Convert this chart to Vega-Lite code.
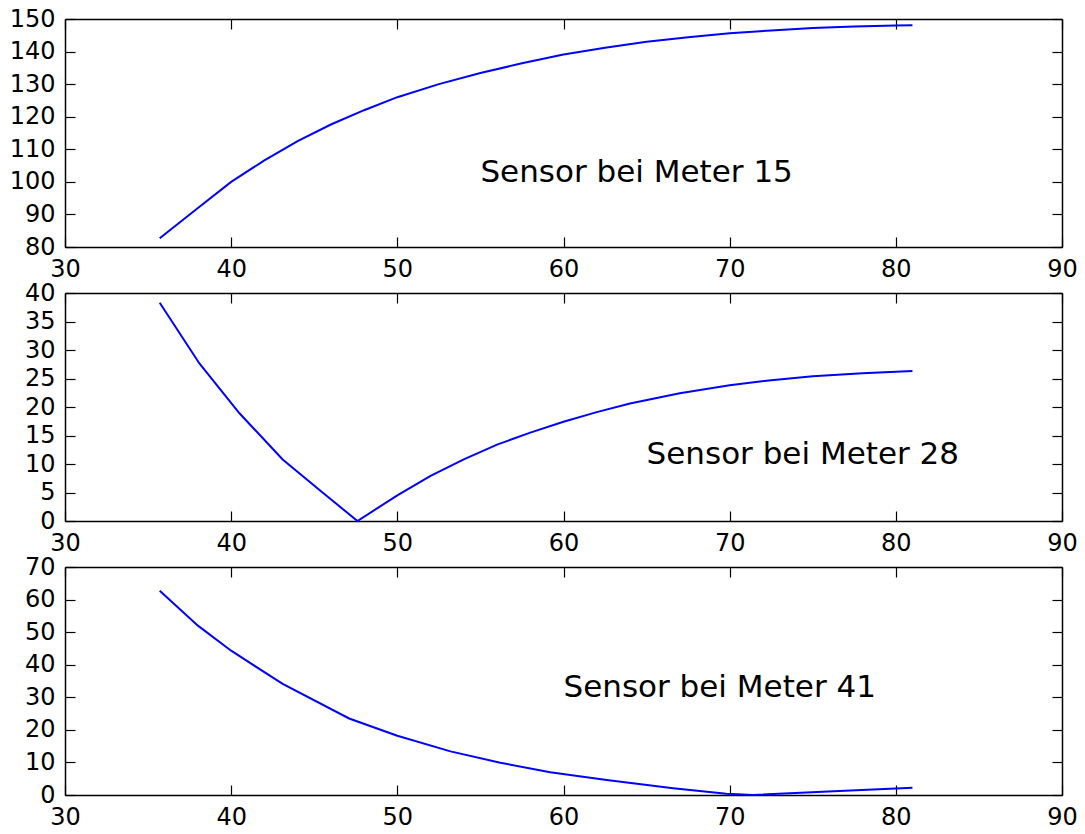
{
  "$schema": "https://vega.github.io/schema/vega-lite/v6.json",
  "padding": {"left": 9, "top": 7, "right": 5, "bottom": 5},
  "background": "white",
  "config": {
    "font": "DejaVu Sans",
    "view": {"stroke": null},
    "axis": {
      "grid": false,
      "title": null,
      "domainColor": "black",
      "domainWidth": 1.5,
      "tickColor": "black",
      "tickWidth": 1.2,
      "tickSize": -10,
      "labelFont": "DejaVu Sans",
      "labelFontSize": 24,
      "labelColor": "black",
      "labelOverlap": false,
      "labelFlush": false,
      "labelPadding": 20
    }
  },
  "spacing": 46,
  "bounds": "flush",
  "vconcat": [
    {
      "width": 997,
      "height": 228,
      "layer": [
        {
          "data": {"values": [
            {"x": 35.7, "v": 82.7}, {"x": 38.0, "v": 92.0}, {"x": 40.0, "v": 100.0}, {"x": 42.0, "v": 106.6},
            {"x": 44.0, "v": 112.5}, {"x": 46.0, "v": 117.6}, {"x": 48.0, "v": 122.0}, {"x": 50.0, "v": 126.0},
            {"x": 52.5, "v": 130.0}, {"x": 55.0, "v": 133.4}, {"x": 57.5, "v": 136.4}, {"x": 60.0, "v": 139.1},
            {"x": 62.5, "v": 141.2}, {"x": 65.0, "v": 143.0}, {"x": 67.5, "v": 144.4}, {"x": 70.0, "v": 145.6},
            {"x": 72.5, "v": 146.5}, {"x": 75.0, "v": 147.2}, {"x": 77.5, "v": 147.7}, {"x": 80.0, "v": 148.0},
            {"x": 81.0, "v": 148.1}
          ]},
          "mark": {"type": "line", "color": "#0000ff", "strokeWidth": 2},
          "encoding": {
            "x": {"field": "x", "type": "quantitative", "scale": {"domain": [30, 90], "nice": false, "zero": false},
                  "axis": {"orient": "bottom", "values": [30, 40, 50, 60, 70, 80, 90]}},
            "y": {"field": "v", "type": "quantitative", "scale": {"domain": [80, 150], "nice": false, "zero": false},
                  "axis": {"orient": "left", "values": [80, 90, 100, 110, 120, 130, 140, 150]}}
          }
        },
        {
          "data": {"values": [{"x": 55, "v": 100, "label": "Sensor bei Meter 15"}]},
          "mark": {"type": "text", "align": "left", "baseline": "alphabetic", "fontSize": 31, "color": "black"},
          "encoding": {
            "x": {"field": "x", "type": "quantitative", "scale": {"domain": [30, 90], "nice": false, "zero": false},
                  "axis": {"orient": "top", "labels": false, "values": [30, 40, 50, 60, 70, 80, 90]}},
            "y": {"field": "v", "type": "quantitative", "scale": {"domain": [80, 150], "nice": false, "zero": false},
                  "axis": {"orient": "right", "labels": false, "values": [80, 90, 100, 110, 120, 130, 140, 150]}},
            "text": {"field": "label"}
          }
        }
      ],
      "resolve": {"axis": {"x": "independent", "y": "independent"}}
    },
    {
      "width": 997,
      "height": 228,
      "layer": [
        {
          "data": {"values": [
            {"x": 35.7, "v": 38.3}, {"x": 38.1, "v": 27.6}, {"x": 40.5, "v": 18.9}, {"x": 43.1, "v": 10.8},
            {"x": 45.5, "v": 5.0}, {"x": 47.6, "v": 0.0}, {"x": 50.0, "v": 4.5}, {"x": 52.0, "v": 7.9},
            {"x": 54.0, "v": 10.8}, {"x": 56.0, "v": 13.4}, {"x": 58.0, "v": 15.5}, {"x": 60.0, "v": 17.4},
            {"x": 62.0, "v": 19.1}, {"x": 64.0, "v": 20.6}, {"x": 67.0, "v": 22.4}, {"x": 70.0, "v": 23.8},
            {"x": 72.5, "v": 24.7}, {"x": 75.0, "v": 25.4}, {"x": 78.0, "v": 25.9}, {"x": 81.0, "v": 26.3}
          ]},
          "mark": {"type": "line", "color": "#0000ff", "strokeWidth": 2},
          "encoding": {
            "x": {"field": "x", "type": "quantitative", "scale": {"domain": [30, 90], "nice": false, "zero": false},
                  "axis": {"orient": "bottom", "values": [30, 40, 50, 60, 70, 80, 90]}},
            "y": {"field": "v", "type": "quantitative", "scale": {"domain": [0, 40], "nice": false, "zero": false},
                  "axis": {"orient": "left", "values": [0, 5, 10, 15, 20, 25, 30, 35, 40]}}
          }
        },
        {
          "data": {"values": [{"x": 65, "v": 10, "label": "Sensor bei Meter 28"}]},
          "mark": {"type": "text", "align": "left", "baseline": "alphabetic", "fontSize": 31, "color": "black"},
          "encoding": {
            "x": {"field": "x", "type": "quantitative", "scale": {"domain": [30, 90], "nice": false, "zero": false},
                  "axis": {"orient": "top", "labels": false, "values": [30, 40, 50, 60, 70, 80, 90]}},
            "y": {"field": "v", "type": "quantitative", "scale": {"domain": [0, 40], "nice": false, "zero": false},
                  "axis": {"orient": "right", "labels": false, "values": [0, 5, 10, 15, 20, 25, 30, 35, 40]}},
            "text": {"field": "label"}
          }
        }
      ],
      "resolve": {"axis": {"x": "independent", "y": "independent"}}
    },
    {
      "width": 997,
      "height": 228,
      "layer": [
        {
          "data": {"values": [
            {"x": 35.7, "v": 62.7}, {"x": 38.0, "v": 52.0}, {"x": 40.0, "v": 44.3}, {"x": 43.1, "v": 34.1},
            {"x": 47.1, "v": 23.5}, {"x": 50.0, "v": 18.2}, {"x": 53.2, "v": 13.4}, {"x": 56.2, "v": 9.9},
            {"x": 59.2, "v": 7.0}, {"x": 62.6, "v": 4.6}, {"x": 66.6, "v": 2.1}, {"x": 69.8, "v": 0.4},
            {"x": 71.4, "v": 0.0}, {"x": 76.6, "v": 1.2}, {"x": 81.0, "v": 2.2}
          ]},
          "mark": {"type": "line", "color": "#0000ff", "strokeWidth": 2},
          "encoding": {
            "x": {"field": "x", "type": "quantitative", "scale": {"domain": [30, 90], "nice": false, "zero": false},
                  "axis": {"orient": "bottom", "values": [30, 40, 50, 60, 70, 80, 90]}},
            "y": {"field": "v", "type": "quantitative", "scale": {"domain": [0, 70], "nice": false, "zero": false},
                  "axis": {"orient": "left", "values": [0, 10, 20, 30, 40, 50, 60, 70]}}
          }
        },
        {
          "data": {"values": [{"x": 60, "v": 30, "label": "Sensor bei Meter 41"}]},
          "mark": {"type": "text", "align": "left", "baseline": "alphabetic", "fontSize": 31, "color": "black"},
          "encoding": {
            "x": {"field": "x", "type": "quantitative", "scale": {"domain": [30, 90], "nice": false, "zero": false},
                  "axis": {"orient": "top", "labels": false, "values": [30, 40, 50, 60, 70, 80, 90]}},
            "y": {"field": "v", "type": "quantitative", "scale": {"domain": [0, 70], "nice": false, "zero": false},
                  "axis": {"orient": "right", "labels": false, "values": [0, 10, 20, 30, 40, 50, 60, 70]}},
            "text": {"field": "label"}
          }
        }
      ],
      "resolve": {"axis": {"x": "independent", "y": "independent"}}
    }
  ]
}
